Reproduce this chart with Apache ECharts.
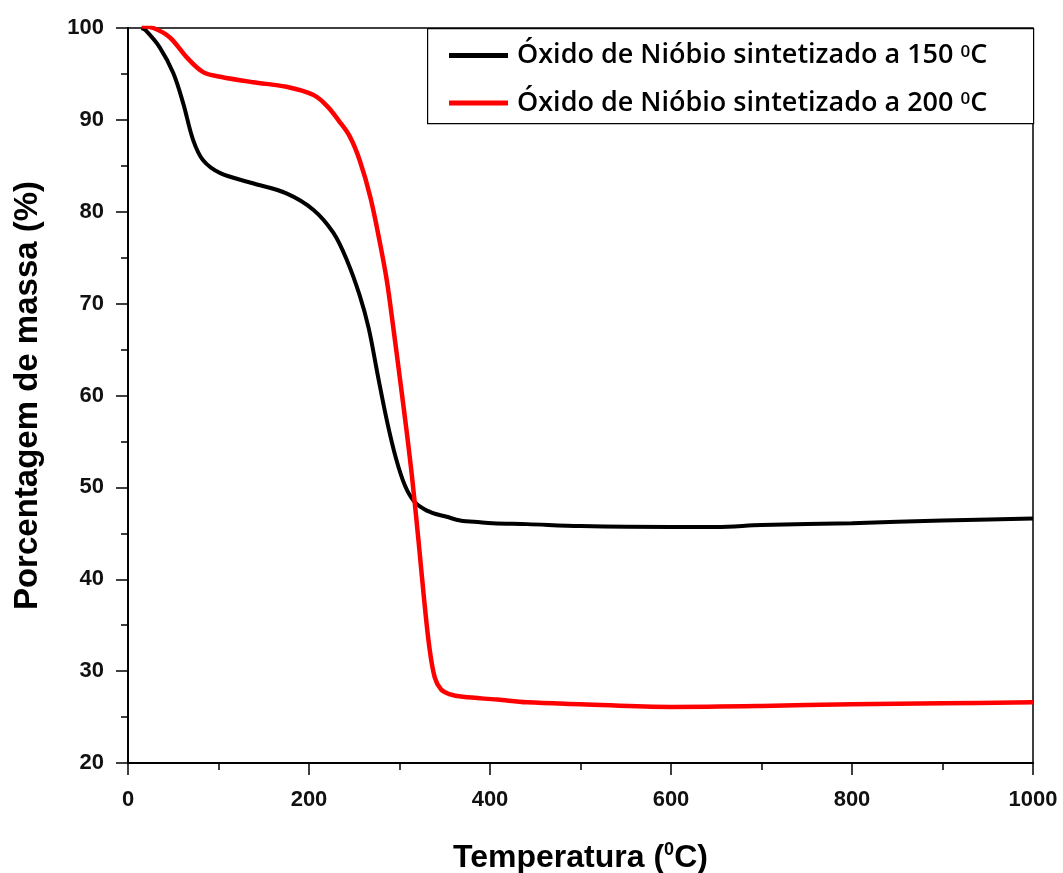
<!DOCTYPE html>
<html>
<head>
<meta charset="utf-8">
<script src="https://cdn.jsdelivr.net/npm/echarts@6/dist/echarts.min.js"></script>
<style>html,body{margin:0;padding:0;background:#fff}#c{width:1063px;height:873px}</style>
</head>
<body>
<div id="c"></div>
<script>
// Temperature (°C) and mass (%)
const temp150 = [15,19,35,50,61,72,83,102,138,175,205,227,242,256,266,276,286,296,306,316,328,340,352,367,389,403,441,500,600,650,700,800,900,1000];
const mass150 = [100,99.8,97.9,95.1,91.8,87.8,85.6,84.2,83.1,82.0,80.2,77.7,74.7,70.9,67.3,62.2,57.3,53.2,50.2,48.5,47.6,47.1,46.8,46.4,46.2,46.1,46.0,45.8,45.7,45.7,45.9,46.1,46.4,46.6];
const temp200 = [15,28,46,65,83,102,138,175,205,220,233,245,256,268,278,286,293,300,307,314,321,327,333,339,346,355,370,408,441,500,600,700,800,900,1000];
const mass200 = [100.2,100,99.0,96.8,95.2,94.7,94.1,93.6,92.7,91.5,89.9,88.2,85.6,81.5,76.8,72.5,67.5,62.2,56.8,51.0,44.2,38.0,32.6,29.3,28.0,27.5,27.2,26.9,26.6,26.4,26.1,26.2,26.4,26.5,26.6];
const seriesNames = ['Óxido de Nióbio sintetizado a 150 ', 'Óxido de Nióbio sintetizado a 200 '];
const xTicks = [0,200,400,600,800,1000];
const yTicks = [20,30,40,50,60,70,80,90,100];

const zip = (a,b) => a.map((v,i)=>[v,b[i]]);
const chart = echarts.init(document.getElementById('c'));
const lblFont = {fontFamily:'Liberation Sans, Arial, sans-serif', fontWeight:'bold', fontSize:22, color:'#111'};
chart.setOption({
  animation:false,
  backgroundColor:'#fff',
  grid:{left:128, right:30, top:28, bottom:110, show:true, borderColor:'#000', borderWidth:1.5, containLabel:false, outerBoundsMode:'none'},
  xAxis:{type:'value', min:xTicks[0], max:xTicks[xTicks.length-1], interval:200,
    axisLine:{show:true, onZero:false, lineStyle:{color:'#000', width:2}},
    axisTick:{show:true, inside:false, length:12, lineStyle:{color:'#000', width:1.5}},
    minorTick:{show:true, splitNumber:2, length:7, lineStyle:{color:'#000', width:1.5}},
    splitLine:{show:false},
    axisLabel:Object.assign({margin:26, formatter: v => String(v)}, lblFont),
    name:'{a|Temperatura (}{s|0}{a|C)}', nameLocation:'middle', nameGap:78,
    nameTextStyle:{rich:{
      a:{fontFamily:'Liberation Sans, Arial, sans-serif', fontWeight:'bold', fontSize:32, color:'#000', lineHeight:34},
      s:{fontFamily:'Liberation Sans, Arial, sans-serif', fontWeight:'bold', fontSize:18, color:'#000', verticalAlign:'top', lineHeight:34, padding:[0,0,14,0]}
    }}
  },
  yAxis:{type:'value', min:yTicks[0], max:yTicks[yTicks.length-1], interval:10,
    axisLine:{show:true, onZero:false, lineStyle:{color:'#000', width:2}},
    axisTick:{show:true, inside:false, length:12, lineStyle:{color:'#000', width:1.5}},
    minorTick:{show:true, splitNumber:2, length:7, lineStyle:{color:'#000', width:1.5}},
    splitLine:{show:false},
    axisLabel:Object.assign({margin:24}, lblFont),
    name:'Porcentagem de massa (%)', nameLocation:'middle', nameGap:84,
    nameTextStyle:{fontFamily:'Liberation Sans, Arial, sans-serif', fontWeight:'bold', fontSize:33, color:'#000'}
  },
  graphic:[{type:'rect', left:427, top:28, shape:{width:606, height:95}, style:{fill:'#fff', stroke:'#000', lineWidth:1.2}, z:5}],
  legend:{orient:'vertical', left:449, top:42, padding:0, itemWidth:59, itemHeight:5, itemGap:15, icon:'rect', z:10,
    formatter: n => '{a|' + n + '}{s|0}{a|C}',
    textStyle:{padding:[0,0,0,4], rich:{
      a:{fontFamily:'Open Sans, Lato, sans-serif', fontWeight:600, fontSize:27, color:'#000', lineHeight:24},
      s:{fontFamily:'Open Sans, Lato, sans-serif', fontWeight:600, fontSize:17, color:'#000', verticalAlign:'top', lineHeight:24, padding:[0,0,14,0]}
    }}
  },
  series:[
    {name:seriesNames[0], type:'line', data:zip(temp150, mass150), showSymbol:false, smooth:0.35,
      lineStyle:{color:'#000', width:4}, itemStyle:{color:'#000'}, clip:true},
    {name:seriesNames[1], type:'line', data:zip(temp200, mass200), showSymbol:false, smooth:0.35,
      lineStyle:{color:'#ff0000', width:4.5}, itemStyle:{color:'#ff0000'}, clip:true}
  ]
});
</script>
</body>
</html>
